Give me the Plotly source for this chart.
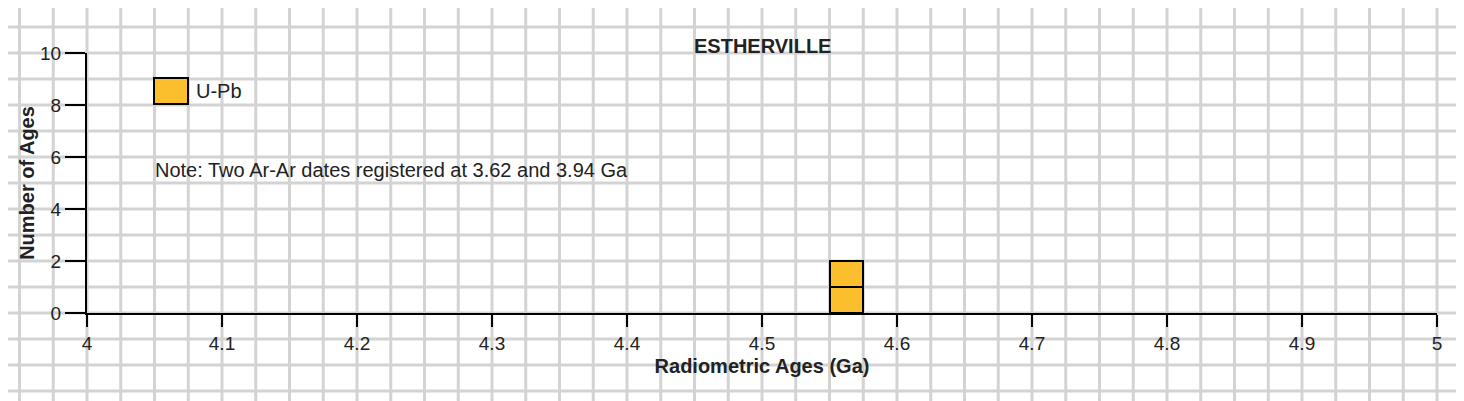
import numpy as np
import plotly.graph_objects as go

# U-Pb ages (Ga), one box per date
upb_ages = [4.5625, 4.5625]
bin_width = 0.025
x_ticks = [4.0, 4.1, 4.2, 4.3, 4.4, 4.5, 4.6, 4.7, 4.8, 4.9, 5.0]
x_labels = ["4", "4.1", "4.2", "4.3", "4.4", "4.5", "4.6", "4.7", "4.8", "4.9", "5"]
y_ticks = [0, 2, 4, 6, 8, 10]

base = list(range(len(upb_ages)))
fig = go.Figure()
fig.add_trace(go.Bar(x=upb_ages, y=[1] * len(upb_ages), base=base, width=bin_width,
                     marker=dict(color="#FBBF2D", line=dict(color="black", width=2)),
                     showlegend=False))

# page offset of ~8px; plot area in screen pixels: x 87..1437, y 53..313
OFF = 8
L, R, T, B = 87 - OFF, 1437 - OFF, 53 - OFF, 313 - OFF
W, H = 1464 - OFF, 401 - OFF + 8


def px(x):
    return (x - OFF - L) / (R - L)


def py(y):
    return (B - (y - OFF)) / (B - T)


shapes = []
for k in range(-3, 42):
    sx = 87 + 33.75 * k
    if 0 <= sx <= 1464:
        shapes.append(dict(type="line", xref="paper", yref="paper", x0=px(sx), x1=px(sx),
                           y0=py(420), y1=py(-20),
                           line=dict(color="#D3D3D3", width=3), layer="below"))
for k in range(-4, 14):
    sy = 313 - 26 * k
    if 0 <= sy <= 401:
        shapes.append(dict(type="line", xref="paper", yref="paper", y0=py(sy), y1=py(sy),
                           x0=px(-20), x1=px(1480),
                           line=dict(color="#D3D3D3", width=3), layer="below"))
# legend swatch
shapes.append(dict(type="rect", xref="paper", yref="paper",
                   x0=px(154), x1=px(188), y0=py(104), y1=py(78),
                   fillcolor="#FBBF2D", line=dict(color="black", width=2)))

fig.update_layout(
    width=W, height=H, margin=dict(l=L, r=W - R, t=T, b=H - B),
    paper_bgcolor="white", plot_bgcolor="rgba(0,0,0,0)",
    font=dict(family="Arial, Liberation Sans", size=20, color="#222"),
    shapes=shapes, bargap=0,
    annotations=[
        dict(text="<b>ESTHERVILLE</b>", xref="paper", yref="paper", x=px(762),
             y=py(46), yanchor="middle", showarrow=False, font=dict(size=20)),
        dict(text="U-Pb", xref="paper", yref="paper", x=px(194),
             y=py(91), xanchor="left", yanchor="middle", showarrow=False),
        dict(text="Note: Two Ar-Ar dates registered at 3.62 and 3.94 Ga", xref="paper",
             yref="paper", x=px(153), y=py(170), xanchor="left", yanchor="middle",
             showarrow=False),
    ],
    xaxis=dict(range=[4, 5], tickvals=x_ticks, ticktext=x_labels, showgrid=False,
               ticks="outside", ticklen=12, tickwidth=2, tickcolor="black",
               showline=True, linecolor="black", linewidth=2, zeroline=False,
               tickfont=dict(size=19),
               title=dict(text="<b>Radiometric Ages (Ga)</b>", standoff=6, font=dict(size=20))),
    yaxis=dict(range=[0, 10], tickvals=y_ticks, showgrid=False, ticks="outside",
               ticklen=20, tickwidth=2, tickcolor="black", showline=True,
               linecolor="black", linewidth=2, zeroline=False, tickfont=dict(size=19),
               title=dict(text="<b>Number of Ages</b>", standoff=0, font=dict(size=20))),
)
fig.write_html("out.html")
